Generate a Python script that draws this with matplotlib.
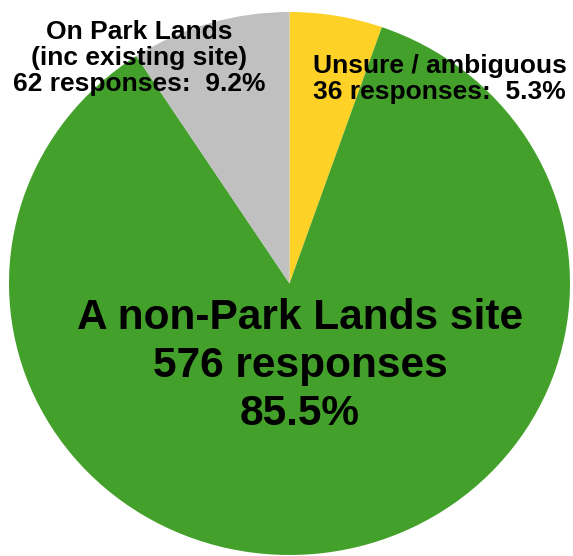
import matplotlib
matplotlib.use("Agg")
import matplotlib.pyplot as plt

# slices, clockwise from 12 o'clock
categories = ["Unsure / ambiguous", "A non-Park Lands site", "On Park Lands\n(inc existing site)"]
responses = [36, 576, 62]
colors = ["#FDD126", "#43A02A", "#C0C0C0"]

W, H = 573, 556
fig = plt.figure(figsize=(W / 100, H / 100), dpi=100)
# pie box in pixels: left 9, right 570, top 12, bottom 555 (slightly squashed ellipse)
ax = fig.add_axes([9 / W, 1 / H, 561 / W, 543 / H])
ax.pie(responses, colors=colors, startangle=90, counterclock=False,
       wedgeprops=dict(linewidth=0))
ax.set_aspect("auto")
ax.set_xlim(-1, 1)
ax.set_ylim(-1, 1)
ax.axis("off")

total = sum(responses)
pct = [100 * r / total for r in responses]

plt.rcParams["font.family"] = ["Liberation Sans", "DejaVu Sans"]

def px(x, y):
    return (x - 289.5) / 280.5, (283.5 - y) / 271.5

# big label inside the green slice
x, y = px(300, 366)
ax.text(x, y, f"{categories[1]}\n{responses[1]} responses\n{pct[1]:.1f}%",
        ha="center", va="center", fontsize=30.5, fontweight="bold", linespacing=1.27)

# top-left label (grey slice)
x, y = px(139, 58)
ax.text(x, y, f"{categories[2]}\n{responses[2]} responses:  {pct[2]:.1f}%",
        ha="center", va="center", fontsize=19, fontweight="bold", linespacing=1.1)

# top-right label (yellow slice)
x, y = px(313, 79)
ax.text(x, y, f"{categories[0]}\n{responses[0]} responses:  {pct[0]:.1f}%",
        ha="left", va="center", fontsize=19, fontweight="bold", linespacing=1.1)

fig.savefig("out.png", dpi=100)
